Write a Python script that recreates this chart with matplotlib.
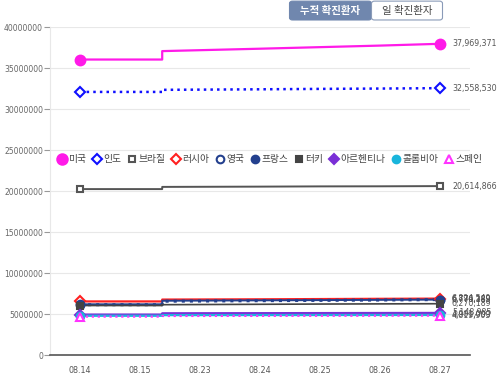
import matplotlib
matplotlib.use("Agg")
import matplotlib.pyplot as plt
from matplotlib.lines import Line2D
from matplotlib.patches import FancyBboxPatch
import numpy as np

plt.rcParams['font.family'] = ['Noto Sans CJK KR', 'DejaVu Sans']

dates = ["08.14", "08.15", "08.23", "08.24", "08.25", "08.26", "08.27"]
countries = ["미국", "인도", "브라질", "러시아", "영국", "프랑스", "터키", "아르헨티나", "콜롬비아", "스페인"]

us        = [36050000, 36050000, 37190000, 37370000, 37560000, 37750000, 37969371]
india     = [32100000, 32100000, 32380000, 32420000, 32470000, 32510000, 32558530]
brazil    = [20250000, 20250000, 20530000, 20550000, 20580000, 20590000, 20614866]
russia    = [6550000, 6550000, 6790000, 6810000, 6840000, 6870000, 6894549]
uk        = [6150000, 6150000, 6600000, 6640000, 6680000, 6720000, 6776389]
france    = [6200000, 6200000, 6650000, 6680000, 6710000, 6740000, 6770189]
turkey    = [6050000, 6050000, 6170000, 6200000, 6230000, 6250000, 6270189]
argentina = [4950000, 4950000, 5110000, 5120000, 5130000, 5140000, 5148985]
colombia  = [4800000, 4800000, 4880000, 4885000, 4890000, 4895000, 4901000]
spain     = [4700000, 4700000, 4780000, 4790000, 4800000, 4810000, 4819903]
end_labels = ["37,969,371", "32,558,530", "20,614,866", "6,894,549", "6,776,389",
              "6,770,189", "6,270,189", "5,148,985", "4,901,000", "4,819,903"]

series = [us, india, brazil, russia, uk, france, turkey, argentina, colombia, spain]
styles = [
    dict(color="#ff1ae8", marker="o", mfc="#ff1ae8", ls="-", lw=1.6, ms=7),
    dict(color="#1010ff", marker="D", mfc="white", ls=":", lw=1.8, ms=5),
    dict(color="#555555", marker="s", mfc="white", ls="-", lw=1.4, ms=5),
    dict(color="#ff2020", marker="D", mfc="white", ls="-", lw=1.6, ms=5),
    dict(color="#23408e", marker="o", mfc="white", ls=":", lw=2.2, ms=5.5),
    dict(color="#23408e", marker="o", mfc="#23408e", ls="-", lw=1.4, ms=5.5),
    dict(color="#444444", marker="s", mfc="#444444", ls="-", lw=1.2, ms=5),
    dict(color="#7a2fd6", marker="D", mfc="#7a2fd6", ls="-", lw=1.6, ms=5),
    dict(color="#19b5dc", marker="o", mfc="#19b5dc", ls="-", lw=1.6, ms=5.5),
    dict(color="#ff33ff", marker="^", mfc="white", ls=":", lw=1.6, ms=5.5),
]

fig = plt.figure(figsize=(5.0, 3.77), dpi=100)
ax = fig.add_axes([0.10, 0.058, 0.84, 0.87])
ax.set_xlim(-0.5, 6.5)
ax.set_ylim(0, 40000000)

xs = np.arange(len(dates))
step = 1.37
for vals, st, lab in zip(series, styles, end_labels):
    v = vals
    right_start = v[2] - (v[3] - v[2]) * (2 - step)
    px = [0, 1, step, step, 2, 3, 4, 5, 6]
    py = [v[0], v[1], v[1], right_start, v[2], v[3], v[4], v[5], v[6]]
    ax.plot(px, py, color=st["color"], ls=st["ls"], lw=st["lw"], zorder=3)
    ax.plot([xs[0], xs[-1]], [v[0], v[-1]], ls="none", marker=st["marker"],
            ms=st["ms"], mfc=st["mfc"], mec=st["color"], mew=1.5, zorder=4)
    ax.text(6.2, v[-1], lab, fontsize=5.7, color="#555555", va="center", ha="left",
            family=["DejaVu Sans"])

ax.set_yticks(np.arange(0, 40000001, 5000000))
ax.set_yticklabels([str(int(t)) for t in np.arange(0, 40000001, 5000000)],
                   fontsize=5.5, color="#666666", family=["DejaVu Sans"])
ax.set_xticks(xs)
ax.set_xticklabels(dates, fontsize=5.8, color="#555555", family=["DejaVu Sans"])
ax.grid(axis="y", color="#e8e8e8", lw=0.8)
ax.set_axisbelow(True)
for s in ["top", "right"]:
    ax.spines[s].set_visible(False)
ax.spines["left"].set_color("#e8e8e8")
ax.spines["bottom"].set_color("#555555")
ax.spines["bottom"].set_linewidth(1.2)
ax.tick_params(axis="y", length=4, color="#999999", pad=1)
ax.tick_params(axis="x", length=0, pad=8)

handles = [Line2D([], [], ls="none", marker=st["marker"], ms=st["ms"] + 0.5 if i == 0 else st["ms"],
                  mfc=st["mfc"], mec=st["color"], mew=1.5) for i, st in enumerate(styles)]
leg = ax.legend(handles, countries, loc="center left", bbox_to_anchor=(0.022, 0.597),
                ncol=10, frameon=False, fontsize=7.0, handlelength=0.6, handletextpad=0.3,
                columnspacing=0.85, borderaxespad=0, borderpad=0)
for t in leg.get_texts():
    t.set_color("#444444")

# top toggle buttons
b1 = FancyBboxPatch((0.579, 0.947), 0.164, 0.05, boxstyle="round,pad=0,rounding_size=0.006",
                    transform=fig.transFigure, fc="#7087ae", ec="#7087ae", lw=0.8)
b2 = FancyBboxPatch((0.743, 0.947), 0.142, 0.05, boxstyle="round,pad=0,rounding_size=0.006",
                    transform=fig.transFigure, fc="white", ec="#8a9bb8", lw=0.8)
fig.patches.extend([b1, b2])
fig.text(0.661, 0.972, "누적 확진환자", color="white", fontsize=7.5, ha="center", va="center",
         weight="bold")
fig.text(0.814, 0.972, "일 확진환자", color="#444444", fontsize=7.5, ha="center", va="center")

fig.savefig("out.png", dpi=100)
